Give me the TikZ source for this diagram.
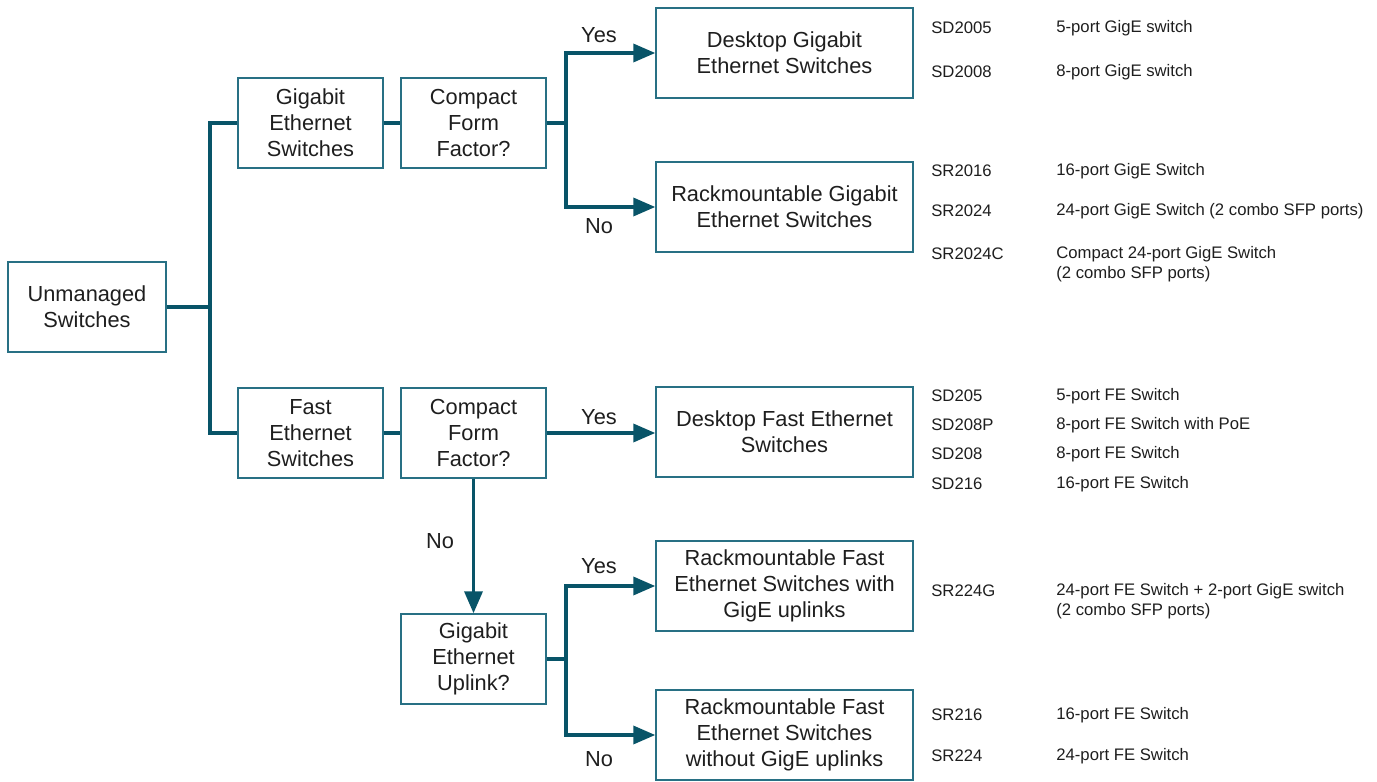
\documentclass[tikz,border=0pt]{standalone}
\usepackage{fontspec}
\setmainfont{Liberation Sans}
\usetikzlibrary{arrows.meta,positioning}
\definecolor{lineTeal}{RGB}{8,84,104}
\definecolor{boxTeal}{RGB}{40,112,132}
\definecolor{textGrey}{RGB}{30,30,30}
\begin{document}
\begin{tikzpicture}[x=0.2mm, y=-0.2mm,
    boxStyle/.style={draw=boxTeal, line width=0.8pt, align=center, minimum height=18mm, inner sep=2pt, text=textGrey, font=\fontsize{12.4}{14.8}\selectfont},
    smallBox/.style={boxStyle, minimum width=29mm},
    wideBox/.style={boxStyle, minimum width=51.4mm},
    linkStyle/.style={draw=lineTeal, line width=2pt},
    arrowStyle/.style={linkStyle, -{Triangle[length=4.4mm, width=3.6mm]}},
    labelStyle/.style={text=textGrey, yshift=-0.4mm, font=\fontsize{12.4}{14.8}\selectfont},
    listStyle/.style={anchor=west, align=left, inner sep=0pt, yshift=-0.4mm, text=textGrey, font=\fontsize{9.5}{11.3}\selectfont}]
    \useasboundingbox (0,0) rectangle (1377,782);

    % decision boxes
    \node[boxStyle, minimum width=31.6mm](unmanaged) at (87, 307) {Unmanaged\\Switches};
    \node[smallBox](gigSw) at (310.5, 123) {Gigabit\\Ethernet\\Switches};
    \node[smallBox](compactA) at (473.5, 123) {Compact\\Form\\Factor?};
    \node[smallBox](fastSw) at (310.5, 433) {Fast\\Ethernet\\Switches};
    \node[smallBox](compactB) at (473.5, 433) {Compact\\Form\\Factor?};
    \node[smallBox](uplink) at (473.5, 659) {Gigabit\\Ethernet\\Uplink?};

    % result boxes
    \node[wideBox](deskGig) at (784.5, 53) {Desktop Gigabit\\Ethernet Switches};
    \node[wideBox](rackGig) at (784.5, 207) {Rackmountable Gigabit\\Ethernet Switches};
    \node[wideBox](deskFast) at (784.5, 432) {Desktop Fast Ethernet\\Switches};
    \node[wideBox](rackWith) at (784.5, 586) {Rackmountable Fast\\Ethernet Switches with\\GigE uplinks};
    \node[wideBox](rackWithout) at (784.5, 735) {Rackmountable Fast\\Ethernet Switches\\without GigE uplinks};

    % branch points
    \coordinate (splitA) at (210, 307);
    \coordinate (splitB) at (566, 123);
    \coordinate (splitC) at (566, 659);

    \draw[linkStyle] (unmanaged) -- (splitA);
    \draw[linkStyle] (gigSw.west) -| (splitA) |- (fastSw.west);
    \draw[linkStyle] (gigSw) -- (compactA);
    \draw[linkStyle] (fastSw) -- (compactB);
    \draw[linkStyle] (compactA) -- (splitB);
    \draw[arrowStyle] (splitB) |- (deskGig.west);
    \draw[arrowStyle] (splitB) |- (rackGig.west);
    \draw[arrowStyle] (compactB.east) -- (compactB.east -| deskFast.west);
    \draw[arrowStyle] (compactB) -- (uplink);
    \draw[linkStyle] (uplink) -- (splitC);
    \draw[arrowStyle] (splitC) |- (rackWith.west);
    \draw[arrowStyle] (splitC) |- (rackWithout.west);

    % yes / no
    \node[labelStyle](yesA) at (599, 33) {Yes};
    \node[labelStyle](noA) at (599, 224) {No};
    \node[labelStyle](yesB) at (599, 415) {Yes};
    \node[labelStyle](noB) at (440, 539) {No};
    \node[labelStyle](yesC) at (599, 564) {Yes};
    \node[labelStyle](noC) at (599, 757) {No};

    % model list
    \node[listStyle](code1) at (931, 26) {SD2005};
    \node[listStyle](desc1) at (1056, 26) {5-port GigE switch};
    \node[listStyle](code2) at (931, 70) {SD2008};
    \node[listStyle](desc2) at (1056, 70) {8-port GigE switch};
    \node[listStyle](code3) at (931, 169) {SR2016};
    \node[listStyle](desc3) at (1056, 169) {16-port GigE Switch};
    \node[listStyle](code4) at (931, 209) {SR2024};
    \node[listStyle](desc4) at (1056, 209) {24-port GigE Switch (2 combo SFP ports)};
    \node[listStyle](code5) at (931, 252) {SR2024C};
    \node[listStyle](desc5) at (1056, 262) {Compact 24-port GigE Switch\\(2 combo SFP ports)};
    \node[listStyle](code6) at (931, 394) {SD205};
    \node[listStyle](desc6) at (1056, 394) {5-port FE Switch};
    \node[listStyle](code7) at (931, 423) {SD208P};
    \node[listStyle](desc7) at (1056, 423) {8-port FE Switch with PoE};
    \node[listStyle](code8) at (931, 452) {SD208};
    \node[listStyle](desc8) at (1056, 452) {8-port FE Switch};
    \node[listStyle](code9) at (931, 482) {SD216};
    \node[listStyle](desc9) at (1056, 482) {16-port FE Switch};
    \node[listStyle](code10) at (931, 589) {SR224G};
    \node[listStyle](desc10) at (1056, 599) {24-port FE Switch + 2-port GigE switch\\(2 combo SFP ports)};
    \node[listStyle](code11) at (931, 713) {SR216};
    \node[listStyle](desc11) at (1056, 713) {16-port FE Switch};
    \node[listStyle](code12) at (931, 754) {SR224};
    \node[listStyle](desc12) at (1056, 754) {24-port FE Switch};
\end{tikzpicture}
\end{document}
